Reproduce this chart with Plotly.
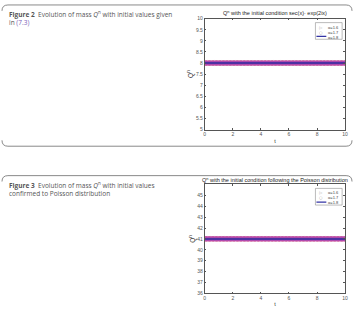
import plotly.graph_objects as go

W, H = 357, 314

# ---- data ----
t_values = [i / 10 for i in range(0, 101)]
alpha_labels = ["α=1.6", "α=1.7", "α=1.8"]
mass_fig2 = [8.0, 8.0, 8.0]      # Q^n constant for each alpha (Figure 2)
mass_fig3 = [41.0, 41.0, 41.0]   # Q^n constant for each alpha (Figure 3)
x_ticks = [0, 2, 4, 6, 8, 10]
y_ticks_fig2 = [5, 5.5, 6, 6.5, 7, 7.5, 8, 8.5, 9, 9.5, 10]
y_ticks_fig3 = [36, 37, 38, 39, 40, 41, 42, 43, 44, 45]

fig = go.Figure()

styles = [
    dict(mode="markers", marker=dict(symbol="triangle-right-open", size=4, color="#e0406a", line=dict(width=1))),
    dict(mode="markers", marker=dict(symbol="circle-open", size=4, color="#b04ab0", line=dict(width=1))),
    dict(mode="lines", line=dict(color="#2a2aa0", width=1.5)),
]

for masses, xa, ya in [(mass_fig2, "x", "y"), (mass_fig3, "x2", "y2")]:
    for lab, m, st in zip(alpha_labels, masses, styles):
        fig.add_trace(go.Scatter(
            x=t_values, y=[m] * len(t_values), name=lab, xaxis=xa, yaxis=ya,
            showlegend=False, **st))

def px_x(p):
    return p / W

def px_y(p):
    return 1 - p / H

FONT = "Liberation Sans"
tick_font = dict(size=5, color="#555", family=FONT)
axis_common = dict(showline=True, mirror="ticks", linecolor="#555", linewidth=0.6,
                   ticks="inside", ticklen=2, tickcolor="#555", tickwidth=0.6,
                   showgrid=False, zeroline=False, tickfont=tick_font)

dom_x = [px_x(206), px_x(348)]
fig.update_layout(
    width=W, height=H, margin=dict(l=0, r=0, t=0, b=0),
    paper_bgcolor="white", plot_bgcolor="white",
    xaxis=dict(domain=dom_x, range=[0, 10], tickvals=x_ticks, anchor="y",
               title=dict(text="t", font=dict(size=5.5, color="#333", family=FONT), standoff=2), **axis_common),
    yaxis=dict(domain=[px_y(129), px_y(16)], range=[5, 10], tickvals=y_ticks_fig2, anchor="x",
               title=dict(text="Q<sup>n</sup>", font=dict(size=6.5, color="#333", family=FONT), standoff=1), **axis_common),
    xaxis2=dict(domain=dom_x, range=[0, 10], tickvals=x_ticks, anchor="y2",
                title=dict(text="t", font=dict(size=5.5, color="#333", family=FONT), standoff=2), **axis_common),
    yaxis2=dict(domain=[px_y(296), px_y(185)], range=[36, 46], tickvals=y_ticks_fig3, anchor="x2",
                title=dict(text="Q<sup>n</sup>", font=dict(size=6.5, color="#333", family=FONT), standoff=1), **axis_common),
    showlegend=False,
)

cap_font = dict(size=6.5, color="#555", family="Open Sans")
title_font = dict(size=5.5, color="#222", family=FONT)
annotations = [
    dict(text="Q<sup>n</sup> with the initial condition sec(x)· exp(2ix)", x=(dom_x[0] + dom_x[1]) / 2, y=px_y(10),
         xref="paper", yref="paper", showarrow=False, font=title_font,
         xanchor="center", yanchor="middle"),
    dict(text="Q<sup>n</sup> with the initial condition following the Poisson distribution",
         x=(dom_x[0] + dom_x[1]) / 2, y=px_y(180),
         xref="paper", yref="paper", showarrow=False, font=title_font,
         xanchor="center", yanchor="middle"),
    dict(text="<b>Figure 2</b>  Evolution of mass <i>Q</i><sup>n</sup> with initial values given<br>in <span style='color:#7a62b8'>(7.3)</span>",
         x=px_x(6), y=px_y(4), xref="paper", yref="paper", showarrow=False, font=cap_font,
         xanchor="left", yanchor="top", align="left"),
    dict(text="<b>Figure 3</b>  Evolution of mass <i>Q</i><sup>n</sup> with initial values<br>confirmed to Poisson distribution",
         x=px_x(6), y=px_y(178), xref="paper", yref="paper", showarrow=False, font=cap_font,
         xanchor="left", yanchor="top", align="left"),
]

def frame_path(y_line, corner_dir):
    x0, x1, r = 1, 355, 6
    ya = px_y(y_line)
    yb = px_y(y_line + corner_dir * r)
    return (f"M {px_x(x0)},{yb} Q {px_x(x0)},{ya} {px_x(x0 + r)},{ya} "
            f"L {px_x(x1 - r)},{ya} Q {px_x(x1)},{ya} {px_x(x1)},{yb}")

shapes = []
for yl, d in [(2, 1), (146, -1), (176, 1)]:
    shapes.append(dict(type="path", path=frame_path(yl, d), xref="paper", yref="paper",
                       line=dict(color="#8a8a8a", width=1)))

# manual legends (box + symbols + labels), one multi-line text per column
leg_font = dict(size=4, color="#444", family=FONT)
line_h = 4 * 1.3
for top in [20, 189]:
    x0, x1 = 318, 345
    shapes.append(dict(type="rect", xref="paper", yref="paper",
                       x0=px_x(x0), x1=px_x(x1), y0=px_y(top), y1=px_y(top + 17),
                       line=dict(color="#777", width=0.5), fillcolor="white"))
    annotations.append(dict(text="<br>".join(alpha_labels), x=px_x(330), y=px_y(top + 1), xref="paper", yref="paper",
                            showarrow=False, font=leg_font, xanchor="left", yanchor="top", align="left",
                            borderpad=0))
    annotations.append(dict(text="▷<br>○<br> ", x=px_x(323.5), y=px_y(top + 1), xref="paper", yref="paper",
                            showarrow=False, font=dict(size=4, color="#888", family="DejaVu Sans"),
                            xanchor="center", yanchor="top", align="center", borderpad=0))
    yy = top + 1 + 2.5 * line_h
    shapes.append(dict(type="line", xref="paper", yref="paper",
                       x0=px_x(319), x1=px_x(329), y0=px_y(yy), y1=px_y(yy),
                       line=dict(color="#2a2aa0", width=1.2)))

fig.update_layout(annotations=annotations, shapes=shapes)

fig.write_html("out.html")
